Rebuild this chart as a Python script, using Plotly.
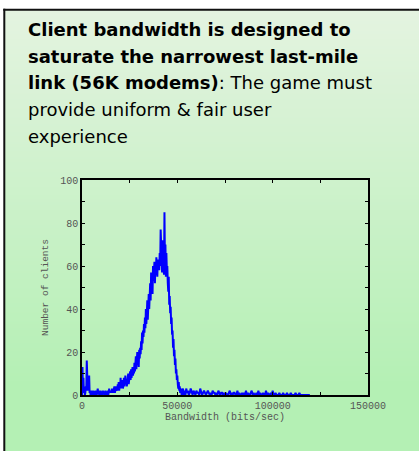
import plotly.graph_objects as go

# ---------------- data ----------------
# histogram counts, fine bins of 250 bits/sec from 0 to 55000
fine_bin = 250
counts_fine = [
    0, 13, 2, 8, 1, 3, 0, 1, 4, 2, 16, 6, 2, 9, 3, 9, 1, 2, 0, 1, 2,
    1, 0, 2, 1, 1, 0, 1, 2, 0, 1, 0, 1, 3, 1, 2, 0, 1, 0, 2, 1,
    1, 0, 1, 2, 1, 0, 0, 1, 2, 1, 0, 1, 1, 2, 0, 1, 3, 1, 2, 1,
    2, 1, 3, 2, 1, 3, 2, 4, 1, 3, 2, 4, 3, 2, 5, 3, 6, 2, 4, 3,
    8, 3, 6, 4, 7, 3, 5, 8, 4, 6, 9, 5, 7, 4, 8, 6, 10, 5, 9, 7,
    11, 7, 12, 8, 10, 13, 9, 12, 10, 15, 11, 14, 18, 12, 16, 20, 14, 19, 13, 21,
    17, 22, 19, 25, 21, 29, 24, 30, 27, 33, 29, 36, 31, 40, 33, 38, 44, 35, 42, 47,
    40, 46, 52, 44, 57, 49, 55, 47, 60, 53, 58, 62, 52, 61, 56, 64, 59, 55, 63, 60,
    62, 58, 66, 60, 77, 63, 70, 57, 72, 64, 68, 56, 85, 62, 70, 55, 66, 58, 60, 52,
    48, 55, 42, 46, 38, 41, 33, 36, 28, 30, 22, 26, 18, 21, 14, 17, 10, 12, 7, 9,
    5, 3, 6, 2, 4, 1, 3, 2, 0, 2, 1, 3, 0, 2, 1, 1, 0, 2, 3,
]
# tail counts, coarse bins of 500 bits/sec from 55000 to 120000
coarse_start = 55000
coarse_bin = 500
counts_coarse = [
    1, 2, 0, 1, 3, 1, 0, 2, 1, 0, 2, 1, 1, 0, 3, 1, 0, 1, 2, 1,
    0, 1, 2, 1, 0, 1, 0, 2, 1, 1, 0, 1, 0, 2, 1, 0, 1, 1, 0, 1,
    0, 1, 0, 0, 1, 2, 0, 1, 0, 1, 1, 0, 0, 2, 0, 1, 0, 0, 1, 0,
    1, 0, 2, 0, 1, 0, 0, 1, 2, 0, 1, 0, 0, 1, 0, 2, 0, 1, 0, 0,
    1, 0, 0, 2, 0, 1, 0, 0, 1, 0, 2, 0, 0, 1, 0, 0, 0, 1, 0, 0,
    0, 1, 0, 0, 0, 1, 0, 0, 0, 1, 0, 0, 0, 0, 1, 0, 0, 0, 1, 0,
    0, 0, 0, 0, 0, 0, 0, 0, 0, 0,
]

x_tickvals = [0, 25000, 50000, 75000, 100000, 125000, 150000]
x_ticktext = ["0", "", "50000", "", "100000", "", "150000"]
y_tickvals = [0, 10, 20, 30, 40, 50, 60, 70, 80, 90, 100]
y_ticktext = ["0", "", "20", "", "40", "", "60", "", "80", "", "100"]

x_title = "Bandwidth (bits/sec)"
y_title = "Number of clients"

text_lines = [
    "<b>Client bandwidth is designed to</b>",
    "<b>saturate the narrowest last-mile</b>",
    "<b>link (56K modems)</b>: The game must",
    "provide uniform &amp; fair user",
    "experience",
]

# ---------------- build ----------------
xs = [i * fine_bin for i in range(len(counts_fine))]
xs += [coarse_start + i * coarse_bin for i in range(len(counts_coarse))]
ys = counts_fine + counts_coarse

W, H = 419, 451
L, R, T, B = 82, 368, 180, 395  # plot area pixels
pw, ph = R - L, B - T


def px(xp):
    return (xp - L) / pw


def py(yp):
    return (B - yp) / ph


fig = go.Figure()
fig.add_trace(go.Scatter(x=xs, y=ys, mode="lines",
                         line=dict(color="#0000ff", width=2),
                         hoverinfo="skip", showlegend=False))

shapes = []
# gradient background panel (banded)
top_c = (228, 243, 224)
bot_c = (180, 240, 180)
y0p, y1p = 9.5, 451
step = 3
y = y0p
while y < y1p:
    t = min(1.0, (y - y0p) / (385 - y0p))
    c = tuple(round(top_c[k] + (bot_c[k] - top_c[k]) * t) for k in range(3))
    shapes.append(dict(type="rect", xref="paper", yref="paper",
                       x0=px(4.5), x1=px(W + 2), y0=py(y), y1=py(min(y + step + 0.6, y1p + 2)),
                       fillcolor="rgb(%d,%d,%d)" % c, line=dict(width=0), layer="below"))
    y += step
# border lines (left and top)
shapes.append(dict(type="line", xref="paper", yref="paper",
                   x0=px(4.3), x1=px(4.3), y0=py(8.7), y1=py(H + 2),
                   line=dict(color="#111111", width=2), layer="below"))
shapes.append(dict(type="line", xref="paper", yref="paper",
                   x0=px(3.3), x1=px(W + 2), y0=py(9.7), y1=py(9.7),
                   line=dict(color="#111111", width=2), layer="below"))

annotations = []
line_centers = [29.5, 56.2, 82.9, 109.6, 136.3]
for txt, yc in zip(text_lines, line_centers):
    annotations.append(dict(text=txt, xref="paper", yref="paper",
                            x=px(26), y=py(yc), xanchor="left", yanchor="middle",
                            showarrow=False, align="left",
                            font=dict(family="DejaVu Sans", size=18, color="#000000")))

axis_font = dict(family="Liberation Mono", size=10, color="#555555")

fig.update_layout(
    width=W, height=H,
    margin=dict(l=L, r=W - R, t=T, b=H - B, pad=0),
    paper_bgcolor="#ffffff",
    plot_bgcolor="rgba(0,0,0,0)",
    shapes=shapes,
    annotations=annotations,
    showlegend=False,
    xaxis=dict(range=[0, 150000], tickvals=x_tickvals, ticktext=x_ticktext,
               ticks="inside", ticklen=3, tickwidth=1, tickcolor="#000000",
               showline=True, linecolor="#000000", linewidth=1.5, mirror="ticks",
               showgrid=False, zeroline=False, tickfont=axis_font,
               title=dict(text=x_title, font=axis_font, standoff=2)),
    yaxis=dict(range=[0, 100], tickvals=y_tickvals, ticktext=y_ticktext,
               ticks="inside", ticklen=3, tickwidth=1, tickcolor="#000000",
               showline=True, linecolor="#000000", linewidth=1.5, mirror="ticks",
               showgrid=False, zeroline=False, tickfont=axis_font,
               title=dict(text=y_title, font=dict(family="Liberation Mono", size=9.5, color="#555555"),
                          standoff=10)),
)

fig.write_html("out.html", config={"displayModeBar": False},
               post_script="document.body.style.margin='0';document.body.style.overflow='hidden';")
